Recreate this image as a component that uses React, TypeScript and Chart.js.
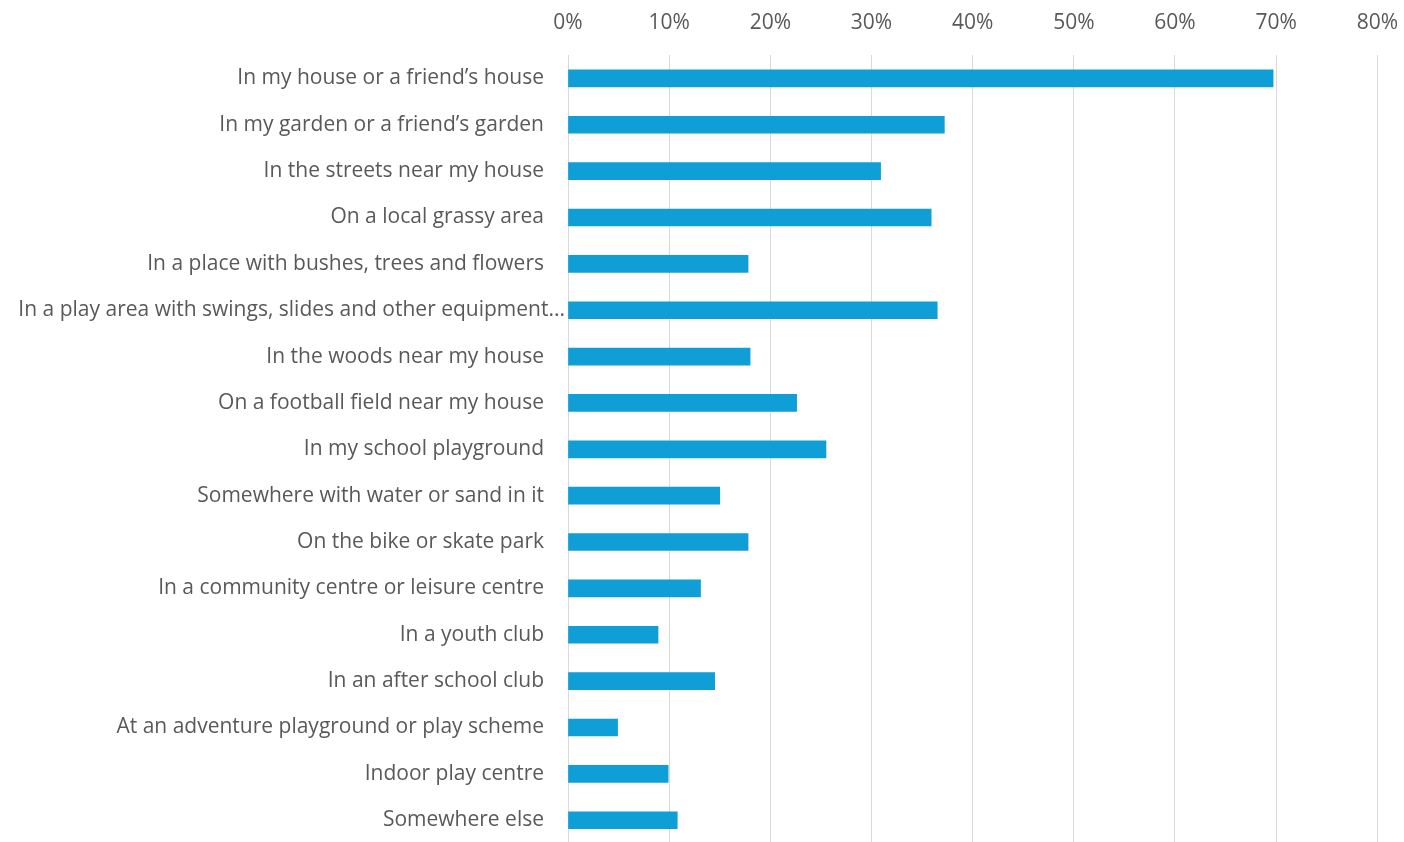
import React, { useEffect, useRef } from "react";
import { Chart, registerables } from "chart.js";

Chart.register(...registerables);

const categories: string[] = [
  "In my house or a friend\u2019s house",
  "In my garden or a friend\u2019s garden",
  "In the streets near my house",
  "On a local grassy area",
  "In a place with bushes, trees and flowers",
  "In a play area with swings, slides and other equipment...",
  "In the woods near my house",
  "On a football field near my house",
  "In my school playground",
  "Somewhere with water or sand in it",
  "On the bike or skate park",
  "In a community centre or leisure centre",
  "In a youth club",
  "In an after school club",
  "At an adventure playground or play scheme",
  "Indoor play centre",
  "Somewhere else",
];

const values: number[] = [
  69.7, 37.2, 30.9, 35.9, 17.8, 36.5, 18.0, 22.6, 25.5, 15.0, 17.8, 13.1, 8.9, 14.5, 4.9, 9.9, 10.8,
];

const xTicks: number[] = [0, 10, 20, 30, 40, 50, 60, 70, 80];

export default function App() {
  const ref = useRef<HTMLCanvasElement | null>(null);

  useEffect(() => {
    if (!ref.current) return;
    const font = { family: "'Open Sans', 'Liberation Sans', sans-serif", size: 21 };
    const chart = new Chart(ref.current, {
      type: "bar",
      data: {
        labels: categories,
        datasets: [
          {
            data: values,
            backgroundColor: "#0F9ED5",
            barThickness: 17,
          },
        ],
      },
      options: {
        indexAxis: "y",
        animation: false,
        responsive: true,
        maintainAspectRatio: false,
        layout: { padding: { top: 13, right: 11, bottom: 3, left: 0 } },
        plugins: { legend: { display: false }, tooltip: { enabled: false } },
        scales: {
          x: {
            position: "top",
            min: 0,
            max: 80,
            afterBuildTicks: (scale: any) => {
              scale.ticks = xTicks.map((v) => ({ value: v }));
            },
            ticks: {
              color: "#595959",
              font,
              padding: 20,
              callback: (v: any) => v + "%",
            },
            grid: { color: "#d9d9d9", drawTicks: false, lineWidth: 1 },
            border: { display: false },
          },
          y: {
            afterFit: (scale: any) => {
              scale.width = 568;
            },
            ticks: {
              color: "#595959",
              font,
              padding: 3,
              autoSkip: false,
              callback: function (this: any, v: any) {
                const l = categories[v as number];
                return l.endsWith("...") ? l : l + "\u2002\u2002";
              },
            },
            grid: { display: false, drawTicks: false },
            border: { display: false },
          },
        },
      },
    });
    return () => chart.destroy();
  }, []);

  return (
    <div
      style={{
        position: "fixed",
        left: 0,
        top: 0,
        width: 1404,
        height: 842,
        overflow: "hidden",
        background: "#ffffff",
      }}
    >
      <div style={{ position: "absolute", left: 0, top: -23, width: 1418, height: 882 }}>
        <canvas ref={ref} />
      </div>
    </div>
  );
}
